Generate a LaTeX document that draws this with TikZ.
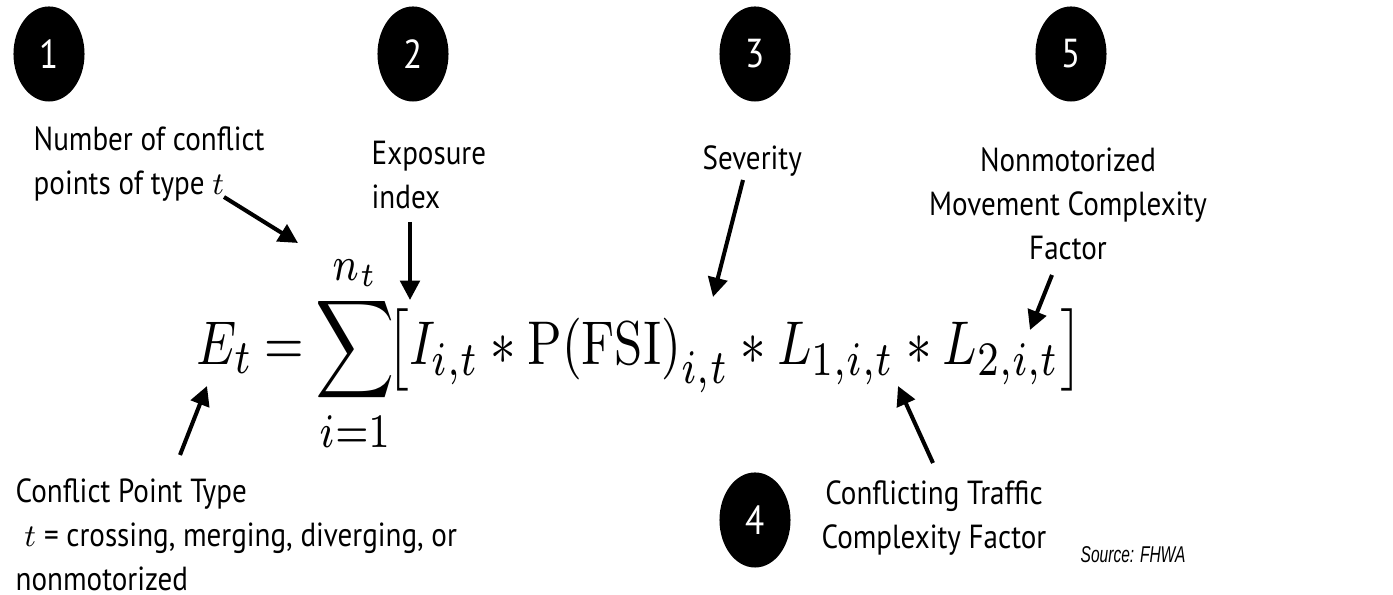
\documentclass[tikz,border=0pt]{standalone}
\usepackage[no-math]{fontspec}
\usepackage{graphicx}
\setmainfont{PT Sans}[FakeStretch=0.87]
\newfontfamily\srcfont{Liberation Sans}[FakeStretch=0.68]
\usetikzlibrary{arrows.meta,shapes.geometric}

\begin{document}
\begin{tikzpicture}[
  x=0.01cm, y=-0.01cm,
  every node/.style={
    inner sep=0pt,
    font=\fontsize{9.5}{12.5}\selectfont
  },
  badge/.style={
    ellipse,
    fill=black,
    text=white,
    minimum width=0.71cm,
    minimum height=0.95cm,
    font=\fontsize{11.5}{14}\selectfont
  },
  lbl/.style={align=left, anchor=north west},
  ctr/.style={align=center, anchor=north},
  ptr/.style={-{Triangle[length=5.5pt,width=5.5pt]}, line width=1.15pt}
]
\useasboundingbox (0,0) rectangle (1393,595);

\node[badge] (b1) at (49,54) {1};
\node[badge] (b2) at (413,54) {2};
\node[badge] (b3) at (755,54) {3};
\node[badge] (b5) at (1071,54) {5};
\node[badge] (b4) at (755,520) {4};

\node[anchor=base west] (eq) at (196,365)
  {\scalebox{1}[1.25]{\resizebox{8.86cm}{!}{\thickmuskip=4mu\medmuskip=4mu
    $\displaystyle E_t = \sum_{i=1}^{n_t}\!\bigl[I_{i,t} * \mathrm{P(FSI)}_{i,t} * L_{1,i,t} * L_{2,i,t}\bigr]$}}};

\node[lbl] (npts) at (33,126) {Number of conflict\\points of type $t$};
\node[lbl] (expo) at (371,140) {Exposure\\index};
\node[lbl] (sev) at (702,145) {Severity};
\node[ctr] (nmcf) at (1068,147) {Nonmotorized\\Movement Complexity\\Factor};
\node[lbl] (cpt) at (15,478) {Conflict Point Type\\\hspace*{2.5pt}$t$ = crossing, merging, diverging, or\\nonmotorized};
\node[ctr] (ctcf) at (934,480) {Conflicting Traffic\\Complexity Factor};
\node[anchor=base west, font=\srcfont\itshape\fontsize{6.5}{8}\selectfont] (src) at (1080,563) {Source: FHWA};

\coordinate (npts-from) at (224,197);
\coordinate (npts-to) at (298,243);
\coordinate (expo-from) at (410,222);
\coordinate (expo-to) at (410,300);
\coordinate (sev-from) at (743,180);
\coordinate (sev-to) at (713,297);
\coordinate (nmcf-from) at (1052,275);
\coordinate (nmcf-to) at (1030,330);
\coordinate (cpt-from) at (180,455);
\coordinate (cpt-to) at (207,386);
\coordinate (ctcf-from) at (933,463);
\coordinate (ctcf-to) at (898,386);

\draw[ptr] (npts-from) -- (npts-to);
\draw[ptr] (expo-from) -- (expo-to);
\draw[ptr] (sev-from) -- (sev-to);
\draw[ptr] (nmcf-from) -- (nmcf-to);
\draw[ptr] (cpt-from) -- (cpt-to);
\draw[ptr] (ctcf-from) -- (ctcf-to);
\end{tikzpicture}
\end{document}
